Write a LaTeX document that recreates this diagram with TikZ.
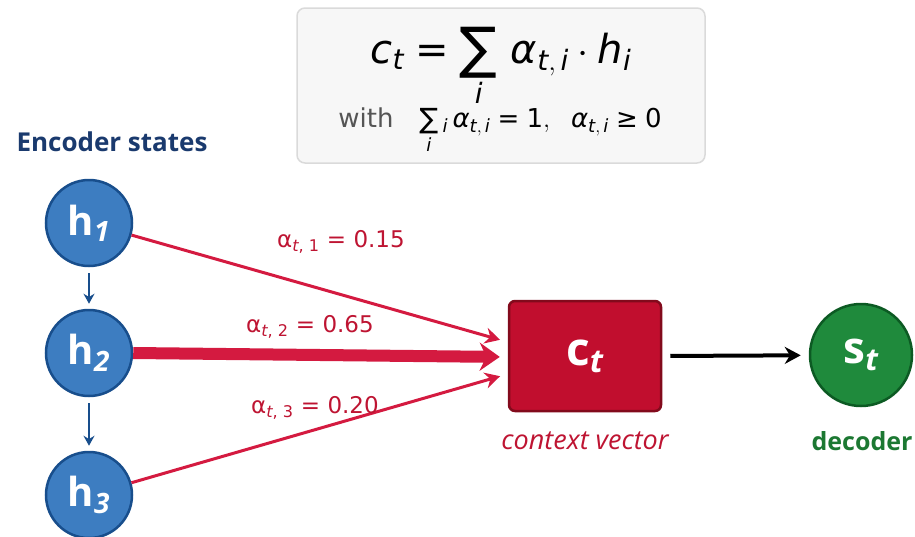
\RequirePackage{fix-cm}
\documentclass[tikz,border=0pt]{standalone}
\usepackage{amsmath}
\usepackage{fontspec}
\setmainfont{Open Sans}
\newfontfamily\djv{DejaVu Sans}
\usetikzlibrary{arrows.meta}
\definecolor{encfill}{RGB}{61,125,193}
\definecolor{encline}{RGB}{24,78,140}
\definecolor{enctext}{RGB}{26,58,110}
\definecolor{attnred}{RGB}{212,26,64}
\definecolor{attntext}{RGB}{190,20,50}
\definecolor{ctxfill}{RGB}{193,14,46}
\definecolor{ctxline}{RGB}{130,10,28}
\definecolor{decfill}{RGB}{31,138,60}
\definecolor{decline}{RGB}{12,90,35}
\definecolor{dectext}{RGB}{28,120,50}
\definecolor{boxfill}{RGB}{247,247,247}
\definecolor{boxline}{RGB}{218,218,218}
\definecolor{withgray}{RGB}{85,85,85}
\newcommand{\mi}[1]{\text{\itshape #1}}
\newcommand{\eqs}{\mathrel{\text{=}}}
\newcommand{\fs}[1]{\fontsize{#1}{1.2\dimexpr#1pt\relax}\selectfont}
% sans summation sign of a given size
\newcommand{\sumof}[1]{\mathop{\vcenter{\hbox{\djv\fontsize{#1}{#1}\selectfont ∑}}}}
\tikzset{
  encstate/.style={circle, fill=encfill, draw=encline, line width=2.5pt, minimum size=86pt, inner sep=0pt, text=white, font=\fs{40}\bfseries},
  ctxbox/.style={rectangle, rounded corners=6pt, fill=ctxfill, draw=ctxline, line width=2.5pt, minimum width=152pt, minimum height=110pt, text=white, font=\fs{46}\bfseries},
  decstate/.style={circle, fill=decfill, draw=decline, line width=2.5pt, minimum size=102pt, inner sep=0pt, text=white, font=\fs{44}\bfseries},
  attn/.style={draw=attnred, line width=3pt, shorten >=8pt, -{Stealth[length=15pt, width=16pt]}},
  attnlabel/.style={text=attntext, font=\djv\fs{23}},
  seqarrow/.style={draw=encline, line width=2.5pt, shorten <=6pt, shorten >=5pt, -{Stealth[length=10pt, width=11pt]}}
}
\begin{document}
\begin{tikzpicture}[x=1pt, y=-1pt]
  \useasboundingbox (0,0) rectangle (915,536);
  % the formula box
  \draw[fill=boxfill, draw=boxline, line width=1.5pt, rounded corners=8pt] (297,8) rectangle (705,163);
  \node[font=\djv\fs{40}] (formula) at (501,67) {$\displaystyle \mi{c}_{\mi{t}} \eqs \sumof{56}\limits_{\mi{i}}\, \mi{α}_{\mi{t},\,\mi{i}} \cdot \mi{h}_{\mi{i}}$};
  \node[font=\djv\fs{26}] (constraint) at (500,131) {{\color{withgray}with}\quad $\sumof{28}\limits_{\mi{i}}{}_{\mi{i}}\, \mi{α}_{\mi{t},\,\mi{i}} \eqs \text{1},\ \ \mi{α}_{\mi{t},\,\mi{i}} \mathrel{\text{≥}} \text{0}$};
  % encoder side
  \node[text=enctext, font=\fs{26}\bfseries] (enclabel) at (112,142) {Encoder states};
  \node[encstate] (h1) at (89,223) {h\textsubscript{\itshape 1}};
  \node[encstate] (h2) at (89,353) {h\textsubscript{\itshape 2}};
  \node[encstate] (h3) at (89,495) {h\textsubscript{\itshape 3}};
  \draw[seqarrow] (h1) -- (h2);
  \draw[seqarrow] (h2) -- (h3);
  % context vector and decoder
  \node[ctxbox] (ct) at (585,356) {c\textsubscript{\itshape t}};
  \node[text=attntext, font=\fs{27}\itshape] (ctlabel) at (585,441) {context vector};
  \node[decstate] (st) at (861,355) {s\textsubscript{\itshape t}};
  \node[text=dectext, font=\fs{25}\bfseries] (stlabel) at (862,441) {decoder};
  % attention weights
  \draw[attn] (h1) -- ([yshift=14pt]ct.west);
  \draw[attn, line width=12pt, -{Stealth[length=20pt, width=28pt]}] (h2.east) -- ([yshift=-1pt]ct.west);
  \draw[attn] (h3) -- ([yshift=-18pt]ct.west);
  \node[attnlabel] (w1) at (341,242) {α\textsubscript{\itshape t\upshape, 1} = 0.15};
  \node[attnlabel] (w2) at (310,327) {α\textsubscript{\itshape t\upshape, 2} = 0.65};
  \node[attnlabel] (w3) at (315,408) {α\textsubscript{\itshape t\upshape, 3} = 0.20};
  \draw[line width=4pt, shorten <=8pt, shorten >=8pt, -{Stealth[length=16pt, width=17pt]}] (ct.east) -- (st);
\end{tikzpicture}
\end{document}
